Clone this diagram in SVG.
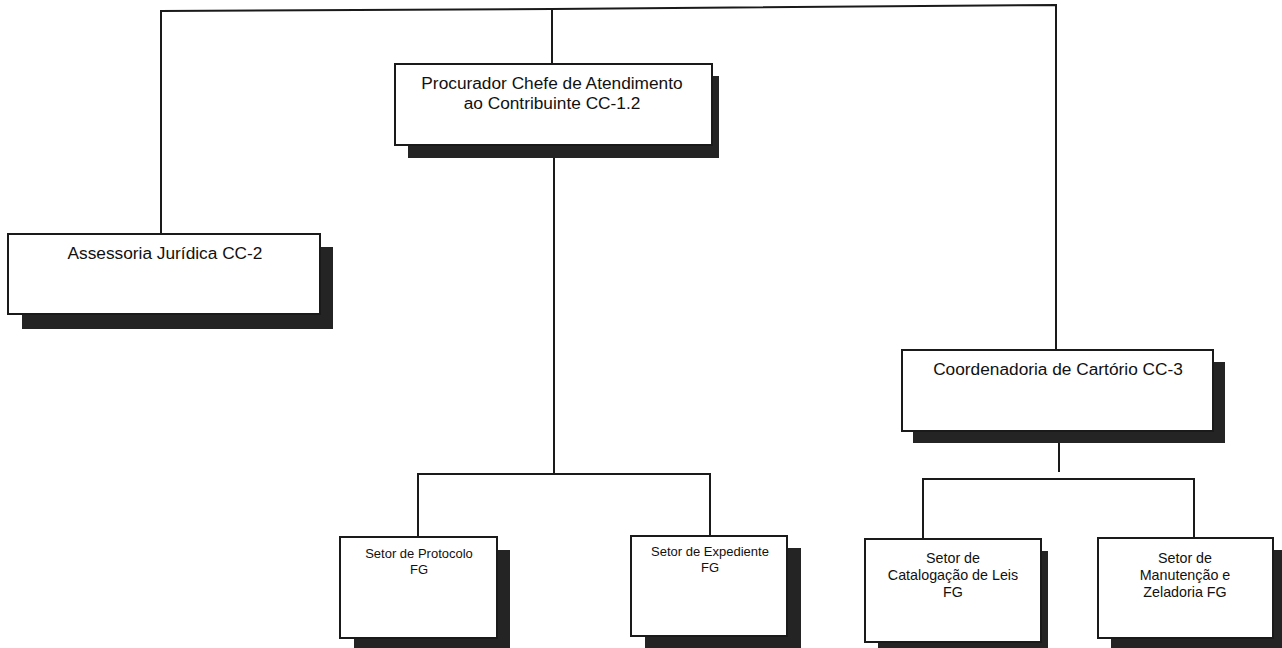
<svg xmlns="http://www.w3.org/2000/svg" width="1282" height="648" viewBox="0 0 1282 648">
  <style>
    .box { fill: #ffffff; stroke: #1a1a1a; stroke-width: 2; }
    .shadow { fill: #242424; }
    .wire { fill: none; stroke: #1a1a1a; stroke-width: 2; }
    text { font-family: "Liberation Sans", Arial, sans-serif; fill: #111111; text-anchor: middle; }
    .big { font-size: 17.3px; }
    .mid { font-size: 14.3px; }
    .small { font-size: 13px; }
  </style>
  <rect width="1282" height="648" fill="#ffffff"/>

  <!-- connectors -->
  <g id="connectors">
    <polyline class="wire" points="161,234 161,11 552,9 1056,5 1056,350"/>
    <line class="wire" x1="552" y1="9" x2="552" y2="64"/>
    <line class="wire" x1="554" y1="145" x2="554" y2="474"/>
    <polyline class="wire" points="418,537 418,474 710,474 710,536"/>
    <line class="wire" x1="1059" y1="442" x2="1059" y2="472"/>
    <polyline class="wire" points="923,539 923,479 1194,479 1194,538"/>
  </g>

  <g id="procurador">
    <rect class="shadow" x="408" y="76" width="311" height="82"/>
    <rect class="box" x="395" y="64" width="317" height="81"/>
    <text class="big" x="552" y="89">Procurador Chefe de Atendimento</text>
    <text class="big" x="552" y="109">ao Contribuinte CC-1.2</text>
  </g>

  <g id="assessoria">
    <rect class="shadow" x="22" y="247" width="311" height="82"/>
    <rect class="box" x="8" y="234" width="312" height="80"/>
    <text class="big" x="165" y="259">Assessoria Jurídica CC-2</text>
  </g>

  <g id="coordenadoria">
    <rect class="shadow" x="913" y="362" width="312" height="81"/>
    <rect class="box" x="902" y="350" width="311" height="81"/>
    <text class="big" x="1058" y="375">Coordenadoria de Cartório CC-3</text>
  </g>

  <g id="protocolo">
    <rect class="shadow" x="354" y="550" width="156" height="98"/>
    <rect class="box" x="340" y="537" width="157" height="101"/>
    <text class="small" x="419" y="558">Setor de Protocolo</text>
    <text class="small" x="419" y="574">FG</text>
  </g>

  <g id="expediente">
    <rect class="shadow" x="645" y="548" width="156" height="100"/>
    <rect class="box" x="631" y="536" width="156" height="100"/>
    <text class="small" x="710" y="556">Setor de Expediente</text>
    <text class="small" x="710" y="572">FG</text>
  </g>

  <g id="catalogacao">
    <rect class="shadow" x="878" y="551" width="170" height="97"/>
    <rect class="box" x="865" y="539" width="176" height="103"/>
    <text class="mid" x="953" y="563">Setor de</text>
    <text class="mid" x="953" y="580">Catalogação de Leis</text>
    <text class="mid" x="953" y="597">FG</text>
  </g>

  <g id="manutencao">
    <rect class="shadow" x="1111" y="550" width="171" height="98"/>
    <rect class="box" x="1098" y="538" width="175" height="100"/>
    <text class="mid" x="1185" y="563">Setor de</text>
    <text class="mid" x="1185" y="580">Manutenção e</text>
    <text class="mid" x="1185" y="597">Zeladoria FG</text>
  </g>
</svg>
